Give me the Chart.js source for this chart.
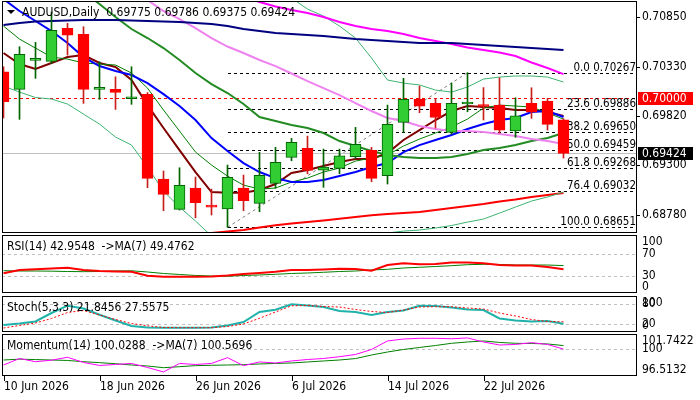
<!DOCTYPE html>
<html>
<head>
<meta charset="utf-8">
<script src="https://cdn.jsdelivr.net/npm/chart.js@4.4.0/dist/chart.umd.min.js"></script>
<style>
  html, body { margin: 0; padding: 0; background: #fff; }
  #wrap { position: relative; width: 700px; height: 400px; }
  #wrap canvas { position: absolute; left: 0; top: 0; }
</style>
</head>
<body>
<div id="wrap">
  <canvas id="main" width="700" height="400"></canvas>
  <canvas id="rsi" width="700" height="400"></canvas>
  <canvas id="stoch" width="700" height="400"></canvas>
  <canvas id="mom" width="700" height="400"></canvas>
</div>
<script>
const symbol = 'AUDUSD,Daily';
const year = '2026';
const dates = ['10 Jun', '11 Jun', '12 Jun', '15 Jun', '16 Jun', '17 Jun', '18 Jun', '19 Jun', '22 Jun', '23 Jun',
  '24 Jun', '25 Jun', '26 Jun', '29 Jun', '30 Jun', '1 Jul', '2 Jul', '3 Jul', '6 Jul', '7 Jul',
  '8 Jul', '9 Jul', '10 Jul', '13 Jul', '14 Jul', '15 Jul', '16 Jul', '17 Jul', '20 Jul', '21 Jul',
  '22 Jul', '23 Jul', '24 Jul', '27 Jul', '28 Jul', '29 Jul'];
const dateTickIdx = [0, 6, 12, 18, 24, 30];

const opens = [0.70277, 0.70094, 0.70397, 0.70386, 0.70731, 0.70668, 0.70094, 0.70094, 0.69995, 0.70041,
  0.69156, 0.68839, 0.69062, 0.68877, 0.68845, 0.69062, 0.68902, 0.69111, 0.69383, 0.69477,
  0.69250, 0.69268, 0.69389, 0.69456, 0.69190, 0.69749, 0.69989, 0.69947, 0.69644, 0.69940,
  0.69924, 0.69929, 0.69658, 0.69947, 0.69971, 0.69775];
const highs = [0.70330, 0.70539, 0.70585, 0.70902, 0.70783, 0.70748, 0.70382, 0.70225, 0.70330, 0.70060,
  0.69240, 0.69274, 0.69177, 0.69051, 0.69302, 0.69198, 0.69435, 0.69487, 0.69581, 0.69605,
  0.69469, 0.69469, 0.69696, 0.69487, 0.69929, 0.70209, 0.70128, 0.69999, 0.70159, 0.70267,
  0.70112, 0.70215, 0.70006, 0.70110, 0.69999, 0.69786];
const lows = [0.69794, 0.69780, 0.70209, 0.70365, 0.70452, 0.69947, 0.69989, 0.69884, 0.69937, 0.69065,
  0.68825, 0.68832, 0.68751, 0.68780, 0.68651, 0.68825, 0.68814, 0.69060, 0.69347, 0.69211,
  0.69069, 0.69211, 0.69372, 0.69128, 0.69104, 0.69644, 0.69849, 0.69689, 0.69626, 0.69859,
  0.69773, 0.69637, 0.69592, 0.69790, 0.69668, 0.69375];
const closes = [0.69964, 0.70459, 0.70418, 0.70710, 0.70661, 0.70094, 0.70114, 0.70062, 0.70006, 0.69163,
  0.68996, 0.69090, 0.68908, 0.68863, 0.69174, 0.68929, 0.69195, 0.69330, 0.69540, 0.69247,
  0.69281, 0.69399, 0.69519, 0.69163, 0.69728, 0.69989, 0.69919, 0.69799, 0.69947, 0.69953,
  0.69914, 0.69668, 0.69818, 0.69856, 0.69728, 0.69424];

// moving averages on the price panel
const maMaroon = [0.70473, 0.70358, 0.70306, 0.70369, 0.70431, 0.70452, 0.70369, 0.70327, 0.70191, 0.69929,
  0.69689, 0.69459, 0.69229, 0.69020, 0.69013, 0.69013, 0.69041, 0.69104, 0.69219, 0.69250,
  0.69292, 0.69334, 0.69365, 0.69365, 0.69428, 0.69564, 0.69668, 0.69773, 0.69867, 0.69919,
  0.69909, 0.69898, 0.69877, 0.69877, 0.69856, 0.69815];
const maThinGreen = [0.70755, 0.70619, 0.70525, 0.70431, 0.70410, 0.70369, 0.70358, 0.70348, 0.70264, 0.70107,
  0.69877, 0.69658, 0.69438, 0.69302, 0.69187, 0.69093, 0.69051, 0.69062, 0.69125, 0.69166,
  0.69229, 0.69271, 0.69344, 0.69375, 0.69407, 0.69501, 0.69574, 0.69637, 0.69700, 0.69783,
  0.69898, 0.69929, 0.69919, 0.69909, 0.69846, 0.69783];
const maBlue = [0.71037, 0.70912, 0.70808, 0.70703, 0.70578, 0.70431, 0.70337, 0.70285, 0.70243, 0.70159,
  0.70044, 0.69919, 0.69773, 0.69584, 0.69449, 0.69323, 0.69229, 0.69166, 0.69125, 0.69125,
  0.69146, 0.69187, 0.69229, 0.69281, 0.69323, 0.69438, 0.69511, 0.69564, 0.69616, 0.69679,
  0.69731, 0.69773, 0.69794, 0.69856, 0.69867, 0.69804];
const bbMid = [0.71738, 0.71612, 0.71487, 0.71362, 0.71236, 0.71111, 0.70985, 0.70849, 0.70724, 0.70630,
  0.70525, 0.70400, 0.70264, 0.70149, 0.70055, 0.69940, 0.69804, 0.69762, 0.69720, 0.69689,
  0.69637, 0.69553, 0.69501, 0.69449, 0.69407, 0.69386, 0.69375, 0.69375, 0.69386, 0.69417,
  0.69459, 0.69480, 0.69511, 0.69553, 0.69585, 0.69637];
const bbUpper = [null, null, null, null, null, null, null, null, null, null,
  null, null, null, null, null, null, null, 0.71111, 0.71048, 0.70933,
  0.70860, 0.70755, 0.70630, 0.70421, 0.70191, 0.70159, 0.70139, 0.70086, 0.70065, 0.70118,
  0.70201, 0.70222, 0.70233, 0.70233, 0.70222, 0.70170];
const bbLower = [0.70128, 0.70065, 0.70008, 0.69992, 0.69940, 0.69835, 0.69731, 0.69595, 0.69511, 0.69281,
  0.69030, 0.68863, 0.68717, 0.68560, 0.68497, 0.68435, 0.68414, 0.68414, 0.68424, 0.68435,
  0.68456, 0.68476, 0.68508, 0.68550, 0.68592, 0.68612, 0.68623, 0.68644, 0.68670, 0.68706,
  0.68738, 0.68800, 0.68863, 0.68926, 0.68968, 0.69020];
const maNavy = [0.70766, 0.70787, 0.70802, 0.70807, 0.70813, 0.70818, 0.70818, 0.70818, 0.70813, 0.70807,
  0.70802, 0.70797, 0.70787, 0.70776, 0.70755, 0.70724, 0.70703, 0.70682, 0.70672, 0.70661,
  0.70651, 0.70635, 0.70619, 0.70609, 0.70598, 0.70588, 0.70578, 0.70578, 0.70578, 0.70567,
  0.70557, 0.70546, 0.70536, 0.70525, 0.70515, 0.70504];
const maMagenta = [null, null, null, null, null, null, null, null, null, null,
  null, null, null, null, null, 0.71069, 0.71006, 0.70959, 0.70922, 0.70891,
  0.70849, 0.70797, 0.70755, 0.70724, 0.70703, 0.70672, 0.70630, 0.70598, 0.70567, 0.70531,
  0.70504, 0.70478, 0.70442, 0.70374, 0.70316, 0.70253];
const maViolet = [null, null, null, null, null, null, null, null, 0.71121, 0.71027,
  0.70912, 0.70828, 0.70734, 0.70630, 0.70541, 0.70473, 0.70400, 0.70337, 0.70259, 0.70180,
  0.70107, 0.70034, 0.69950, 0.69867, 0.69794, 0.69762, 0.69710, 0.69679, 0.69658, 0.69658,
  0.69647, 0.69626, 0.69605, 0.69574, 0.69553, 0.69522];
const maRed = [null, null, null, null, null, null, null, null, null, null,
  null, null, 0.68571, 0.68592, 0.68607, 0.68623, 0.68649, 0.68672, 0.68691, 0.68706,
  0.68722, 0.68741, 0.68759, 0.68777, 0.68790, 0.68801, 0.68811, 0.68832, 0.68853, 0.68874,
  0.68895, 0.68921, 0.68942, 0.68968, 0.68989, 0.69010];

const priceTicks = [0.70850, 0.70330, 0.69820, 0.69300, 0.68780];
const priceLevel = 0.70000;
const fibRatios = [0, 23.6, 38.2, 50, 61.8, 76.4, 100];
const fibLowIdx = 14, fibHighIdx = 29;

// indicator panels
const rsi = [35.5, 41.5, 42.7, 44.2, 45.6, 41.5, 39.6, 38.7, 38.4, 31.1,
  29.3, 29.3, 29.3, 29.6, 31.5, 34.2, 36.0, 38.4, 41.5, 41.5,
  42.4, 43.8, 43.3, 40.2, 50.5, 53.6, 51.8, 52.4, 55.1, 55.1,
  53.6, 50.5, 49.6, 49.6, 46.9, 42.9548];
const rsiMa = [40.2, 39.6, 39.6, 39.3, 38.7, 38.4, 38.7, 39.6, 40.0, 37.8,
  35.1, 33.3, 31.5, 30.5, 30.0, 31.5, 32.4, 33.6, 35.1, 36.0,
  37.3, 38.7, 39.6, 41.5, 42.7, 45.1, 46.4, 47.8, 49.3, 51.1,
  51.8, 51.5, 50.5, 50.5, 50.5, 49.4762];
const stochK = [17.9, 22.4, 28.4, 53.9, 75.8, 67.4, 48.8, 31.4, 14.9, 10.4,
  9.8, 9.8, 9.8, 10.4, 16.4, 26.9, 56.9, 63.8, 80.0, 76.4,
  71.9, 59.9, 56.9, 47.9, 56.9, 61.4, 75.8, 74.9, 70.4, 64.4,
  62.9, 37.4, 31.4, 28.4, 29.9, 21.8456];
const stochD = [8.9, 16.4, 23.9, 37.4, 55.4, 61.4, 47.9, 34.4, 22.4, 15.5,
  10.4, 9.8, 9.8, 9.8, 13.4, 20.9, 38.0, 56.9, 75.5, 76.4,
  73.4, 71.9, 64.4, 58.4, 55.4, 62.9, 71.9, 72.8, 72.8, 68.9,
  65.9, 53.9, 44.9, 34.4, 28.4, 27.5575];
const mom = [97.58, 98.58, 98.09, 98.32, 98.77, 97.97, 97.51, 97.66, 97.82, 97.20,
  96.5132, 97.82, 97.66, 97.82, 98.71, 97.48, 98.05, 97.89, 98.20, 98.43,
  98.58, 98.86, 99.20, 99.97, 101.28, 101.58, 101.69, 101.69, 101.62, 101.7422,
  101.12, 100.66, 100.74, 101.02, 100.74, 100.0288];
const momMa = [98.35, 98.48, 98.42, 98.35, 98.28, 98.09, 97.94, 97.78, 97.58, 97.43,
  97.17, 97.32, 97.48, 97.54, 97.58, 97.63, 97.74, 97.82, 97.89, 98.05,
  98.20, 98.35, 98.57, 99.12, 99.58, 99.97, 100.28, 100.58, 100.92, 101.12,
  101.28, 101.05, 100.92, 100.89, 100.82, 100.5696];

const FAM = '"DejaVu Sans Condensed", "DejaVu Sans", sans-serif';
const FONT = '12px ' + FAM;
const last = a => a[a.length - 1];

function line(values, color, width, extra) {
  return Object.assign({
    type: 'line',
    data: values.map((v, i) => ({ x: i, y: v })),
    borderColor: color,
    borderWidth: width,
    pointRadius: 0,
    tension: 0,
    fill: false,
    order: 2
  }, extra || {});
}

// 16 px per bar, first bar just inside the left border
const xScale = { type: 'linear', min: -0.09375, max: 39.59375, offset: false, display: false };

const panelPlugin = {
  id: 'panel',
  beforeDatasetsDraw(chart, args, o) {
    const { ctx, chartArea: a, scales: { y } } = chart;
    ctx.save();
    ctx.strokeStyle = '#C0C0C0';
    ctx.lineWidth = 1;
    ctx.setLineDash([3, 3]);
    (o.levels || []).forEach(v => {
      const py = Math.round(y.getPixelForValue(v)) + 0.5;
      ctx.beginPath();
      ctx.moveTo(a.left, py);
      ctx.lineTo(a.right, py);
      ctx.stroke();
    });
    ctx.restore();
  },
  afterDraw(chart, args, o) {
    const { ctx, chartArea: a, scales: { x, y } } = chart;
    ctx.save();
    ctx.setLineDash([]);
    ctx.strokeStyle = '#000';
    ctx.lineWidth = 1;
    ctx.strokeRect(a.left + 0.5, a.top + 0.5, a.right - a.left - 1, a.bottom - a.top - 1);
    ctx.font = FONT;
    ctx.fillStyle = '#000';
    ctx.textBaseline = 'middle';
    ctx.textAlign = 'left';
    if (o.triangle) {
      ctx.beginPath();
      ctx.moveTo(a.left + 5, a.top + 9);
      ctx.lineTo(a.left + 13, a.top + 9);
      ctx.lineTo(a.left + 9, a.top + 13);
      ctx.closePath();
      ctx.fill();
    }
    if (o.title) ctx.fillText(o.title, a.left + (o.titleX || 5), a.top + 11.5);
    (o.tickValues || []).forEach((v, i) => {
      let py = y.getPixelForValue(v);
      if (o.clamp) py = Math.min(Math.max(py, a.top + 7), a.bottom - 6);
      if (o.tickMarks) {
        ctx.beginPath();
        ctx.moveTo(a.right, Math.round(py) + 0.5);
        ctx.lineTo(a.right + 3, Math.round(py) + 0.5);
        ctx.stroke();
      }
      ctx.fillText(o.tickTexts[i], a.right + 5, py);
    });
    if (o.dates) {
      dateTickIdx.forEach(i => {
        const px = Math.round(x.getPixelForValue(i)) + 0.5;
        ctx.beginPath();
        ctx.moveTo(px, a.bottom);
        ctx.lineTo(px, a.bottom + 5);
        ctx.stroke();
        ctx.fillText(dates[i] + ' ' + year, px - 0.5, a.bottom + 11);
      });
    }
    ctx.restore();
  }
};

const fibPlugin = {
  id: 'fib',
  beforeDatasetsDraw(chart) {
    const { ctx, chartArea: a, scales: { x, y } } = chart;
    const hi = highs[fibHighIdx], lo = lows[fibLowIdx];
    ctx.save();
    ctx.beginPath();
    ctx.rect(a.left, a.top, a.right - a.left, a.bottom - a.top);
    ctx.clip();
    ctx.lineWidth = 1;
    // level line and bid line
    ctx.setLineDash([3, 3]);
    ctx.strokeStyle = '#FF0000';
    let py = Math.round(y.getPixelForValue(priceLevel)) + 0.5;
    ctx.beginPath(); ctx.moveTo(a.left, py); ctx.lineTo(a.right, py); ctx.stroke();
    ctx.setLineDash([]);
    ctx.strokeStyle = '#C0C0C0';
    py = Math.round(y.getPixelForValue(last(closes))) + 0.5;
    ctx.beginPath(); ctx.moveTo(a.left, py); ctx.lineTo(a.right, py); ctx.stroke();
    // fibonacci trend line
    ctx.setLineDash([3, 3]);
    ctx.strokeStyle = '#808080';
    ctx.beginPath();
    ctx.moveTo(x.getPixelForValue(fibLowIdx), y.getPixelForValue(lo));
    ctx.lineTo(x.getPixelForValue(fibHighIdx), y.getPixelForValue(hi));
    ctx.stroke();
    // fibonacci levels
    ctx.strokeStyle = '#000';
    ctx.font = '11.5px ' + FAM;
    ctx.fillStyle = '#000';
    ctx.textAlign = 'right';
    ctx.textBaseline = 'alphabetic';
    const x0 = Math.round(x.getPixelForValue(fibLowIdx));
    fibRatios.forEach(r => {
      const v = hi - (hi - lo) * r / 100;
      const ly = Math.round(y.getPixelForValue(v)) + 0.5;
      ctx.beginPath(); ctx.moveTo(x0, ly); ctx.lineTo(a.right, ly); ctx.stroke();
      ctx.fillText(r.toFixed(1) + ' ' + v.toFixed(5), a.right - 1, ly - 3);
    });
    ctx.restore();
  },
  afterDraw(chart) {
    const { ctx, chartArea: a, scales: { y } } = chart;
    ctx.save();
    ctx.font = FONT;
    ctx.textBaseline = 'middle';
    ctx.textAlign = 'left';
    [[priceLevel, '#FF0000'], [last(closes), '#000000']].forEach(([v, bg]) => {
      const py = Math.round(y.getPixelForValue(v));
      ctx.fillStyle = bg;
      ctx.fillRect(a.right + 1, py - 6, 55, 13);
      ctx.fillStyle = '#FFFFFF';
      ctx.fillText(v.toFixed(5), a.right + 5, py + 0.5);
    });
    ctx.restore();
  }
};

const baseOptions = (pad, yMin, yMax, panel) => ({
  responsive: false,
  animation: false,
  events: [],
  layout: { padding: { left: 2, right: 63, top: pad[0], bottom: 400 - pad[1] } },
  scales: { x: xScale, y: { display: false, min: yMin, max: yMax } },
  plugins: { legend: { display: false }, tooltip: { enabled: false }, panel: panel }
});

const bull = closes.map((c, i) => c >= opens[i]);

new Chart(document.getElementById('main'), {
  type: 'bar',
  data: {
    datasets: [
      {
        type: 'bar',
        data: opens.map((o, i) => ({ x: i, y: [o, closes[i]] })),
        backgroundColor: bull.map(b => b ? '#32CD32' : '#FF0000'),
        borderColor: bull.map(b => b ? '#006400' : '#FF0000'),
        borderWidth: 1,
        borderSkipped: false,
        barThickness: 11,
        minBarLength: 2,
        grouped: false,
        order: 0
      },
      {
        type: 'bar',
        data: lows.map((l, i) => ({ x: i, y: [l, highs[i]] })),
        backgroundColor: bull.map(b => b ? '#006400' : '#C81E1E'),
        barThickness: 1,
        grouped: false,
        order: 1
      },
      line(maNavy, '#000080', 2),
      line(maMagenta, '#FF00FF', 2),
      line(maViolet, '#EE82EE', 2),
      line(bbUpper, '#3CB371', 1),
      line(bbLower, '#3CB371', 1),
      line(bbMid, '#228B22', 2),
      line(maRed, '#FF0000', 2),
      line(maBlue, '#0000FF', 2),
      line(maThinGreen, '#008000', 1),
      line(maMaroon, '#800000', 2)
    ]
  },
  options: baseOptions([1, 233], 0.68592, 0.71017, {
    title: symbol + '  ' + [opens, highs, lows, closes].map(a => last(a).toFixed(5)).join(' '),
    titleX: 20,
    triangle: true,
    tickValues: priceTicks,
    tickTexts: priceTicks.map(v => v.toFixed(5)),
    tickMarks: true
  }),
  plugins: [panelPlugin, fibPlugin]
});

new Chart(document.getElementById('rsi'), {
  type: 'line',
  data: { datasets: [line(rsiMa, '#008000', 1), line(rsi, '#FF0000', 2, { order: 1 })] },
  options: baseOptions([235, 293], -0.4, 105.1, {
    title: 'RSI(14) ' + last(rsi).toFixed(4) + '  ->MA(7) ' + last(rsiMa).toFixed(4),
    levels: [30, 70],
    tickValues: [100, 70, 30, 0],
    tickTexts: ['100', '70', '30', '0'],
    clamp: true
  }),
  plugins: [panelPlugin]
});

new Chart(document.getElementById('stoch'), {
  type: 'line',
  data: {
    datasets: [
      line(stochD, '#FF0000', 1, { borderDash: [2, 2], order: 1 }),
      line(stochK, '#20B2AA', 2, { order: 2 })
    ]
  },
  options: baseOptions([296, 332], -3.1, 104.9, {
    title: 'Stoch(5,3,3) ' + last(stochK).toFixed(4) + ' ' + last(stochD).toFixed(4),
    levels: [20, 80],
    tickValues: [100, 80, 20, 0],
    tickTexts: ['100', '80', '20', '0'],
    clamp: true
  }),
  plugins: [panelPlugin]
});

const momMax = Math.max(...mom, ...momMa), momMin = Math.min(...mom, ...momMa);
new Chart(document.getElementById('mom'), {
  type: 'line',
  data: { datasets: [line(momMa, '#008000', 1), line(mom, '#FF00FF', 1, { order: 1 })] },
  options: baseOptions([334, 376], 95.89, 102.35, {
    title: 'Momentum(14) ' + last(mom).toFixed(4) + '  ->MA(7) ' + last(momMa).toFixed(4),
    levels: [100],
    tickValues: [momMax, 100, momMin],
    tickTexts: [momMax.toFixed(4), '100', momMin.toFixed(4)],
    clamp: true,
    dates: true
  }),
  plugins: [panelPlugin]
});
</script>
</body>
</html>
